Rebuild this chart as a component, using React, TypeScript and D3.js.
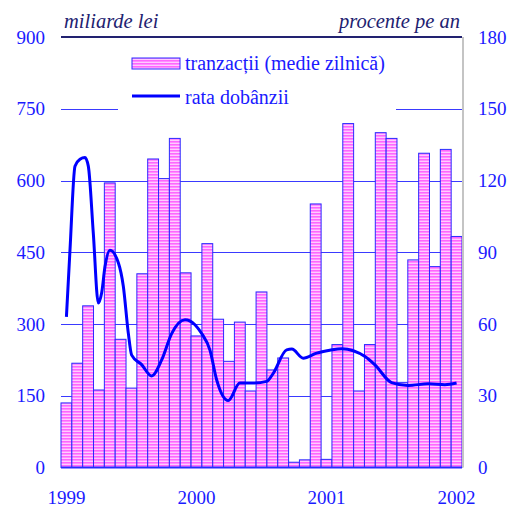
import React from "react";
import * as d3 from "d3";

const months = d3.range(37); // Jan 1999 .. Jan 2002
const tranzactii = [
  135, 218, 338, 162, 595, 268, 166, 405, 645, 604, 688, 407,
  275, 468, 310, 222, 304, 160, 367, 204, 229, 11, 16, 551,
  17, 257, 719, 160, 257, 700, 688, 178, 434, 657, 420, 665,
  483,
];
const rateMonths = [
  0, 0.33, 0.79, 1.25, 1.71, 2.02, 2.48, 2.94, 3.25, 3.56, 4.02, 4.79, 5.25,
  5.71, 6.02, 6.94, 7.86, 8.79, 9.71, 10.94, 11.86, 12.48, 13.25, 13.86, 14.93,
  16.0, 17.24, 18.48, 19.1, 20.32, 20.8, 21.85, 23.09, 24.3, 25.4, 27.55,
  28.47, 30.0, 31.54, 33.38, 34.92, 36.0,
];
const rateValues = [
  63, 91, 126, 128.9, 129.6, 126, 98, 68.8, 73, 84, 90.8, 85.6, 75.8,
  56.2, 47, 43, 38.3, 45, 56, 61.8, 59.7, 56, 49, 36.7, 28,
  35.3, 35.3, 36, 39.5, 49.2, 49.5, 45.7, 47.8, 49, 49.7, 46.4,
  42.9, 35.5, 34.3, 35, 34.6, 35.3,
];
const leftTicks = [0, 150, 300, 450, 600, 750, 900];
const rightTicks = [0, 30, 60, 90, 120, 150, 180];
const yearLabels = ["1999", "2000", "2001", "2002"];
const yearMonths = [0, 12, 24, 36];

const W = 512;
const H = 508;
const X0 = 61;
const X1 = 462;
const YB = 467.5;
const YT = 37;
const BLUE = "#1a1aff";
const NAVY = "#222270";
const FONT = "Times New Roman, Liberation Serif, serif";

export default function App() {
  const xBand = d3.scaleBand<number>().domain(months).range([X0, X1]).padding(0);
  const xLin = d3.scaleLinear().domain([-0.5, 36.5]).range([X0, X1]);
  const yL = d3.scaleLinear().domain([0, 900]).range([YB, YT]);
  const yR = d3.scaleLinear().domain([0, 180]).range([YB, YT]);

  const line = d3
    .line<number>()
    .x((_, i) => xLin(rateMonths[i]))
    .y((d) => yR(d))
    .curve(d3.curveMonotoneX);

  return (
    <svg
      width={W}
      height={H}
      style={{ position: "absolute", left: 0, top: 0, background: "#fff", fontFamily: FONT }}
    >
      <defs>
        <pattern id="stripes" width={4} height={3} patternUnits="userSpaceOnUse">
          <rect x={0} y={0} width={4} height={3} fill="#ffccff" />
          <rect x={0} y={0} width={4} height={1.6} fill="#ff66ff" />
        </pattern>
      </defs>

      {/* gridlines */}
      {leftTicks
        .filter((t) => t > 0 && t < 900)
        .map((t) => (
          <line
            key={t}
            x1={X0}
            x2={X1}
            y1={Math.round(yL(t)) + 0.5}
            y2={Math.round(yL(t)) + 0.5}
            stroke="#3a3aff"
            strokeWidth={1}
          />
        ))}

      {/* legend box (covers gridline) */}
      <rect x={118} y={44} width={278} height={70} fill="#fff" />

      {/* bars */}
      {tranzactii.map((v, i) => (
        <rect
          key={i}
          x={xBand(months[i])!}
          y={yL(v)}
          width={xBand.bandwidth()}
          height={YB - yL(v)}
          fill="url(#stripes)"
          stroke="#2a2aff"
          strokeWidth={1}
        />
      ))}

      {/* top line */}
      <line x1={X0} x2={X1} y1={yL(900)} y2={yL(900)} stroke={NAVY} strokeWidth={2} />
      {/* right frame */}
      <line x1={X1 + 1} x2={X1 + 1} y1={yL(900)} y2={YB} stroke="#c4c4c4" strokeWidth={2} />
      {/* baseline */}
      <line x1={X0} x2={X1} y1={YB} y2={YB} stroke="#2a2aff" strokeWidth={2} />

      {/* rate line */}
      <path d={line(rateValues) || ""} fill="none" stroke="#0000ff" strokeWidth={3} strokeLinejoin="round" />

      {/* left axis labels */}
      {leftTicks.map((t) => (
        <text key={t} x={45} y={yL(t)} dy="0.35em" textAnchor="end" fontSize={19} fill={BLUE}>
          {t}
        </text>
      ))}
      {/* right axis labels */}
      {rightTicks.map((t) => (
        <text key={t} x={478} y={yR(t)} dy="0.35em" textAnchor="start" fontSize={19} fill={BLUE}>
          {t}
        </text>
      ))}
      {/* year labels */}
      {yearLabels.map((y, i) => (
        <text key={y} x={xLin(yearMonths[i])} y={504} textAnchor="middle" fontSize={19} fill={BLUE}>
          {y}
        </text>
      ))}

      {/* axis titles */}
      <text x={64} y={28} fontSize={20.5} fill={NAVY} fontStyle="italic">
        miliarde lei
      </text>
      <text x={460} y={28} fontSize={20.5} fill={NAVY} textAnchor="end" fontStyle="italic">
        procente pe an
      </text>

      {/* legend */}
      <rect x={132} y={58} width={48} height={11} fill="url(#stripes)" stroke="#2a2aff" strokeWidth={1} />
      <text x={185} y={70} fontSize={20} fill={BLUE}>
        tranzacții (medie zilnică)
      </text>
      <line x1={132} x2={180} y1={96} y2={96} stroke="#0000ff" strokeWidth={3} />
      <text x={185} y={104} fontSize={20} fill={BLUE}>
        rata dobânzii
      </text>
    </svg>
  );
}
